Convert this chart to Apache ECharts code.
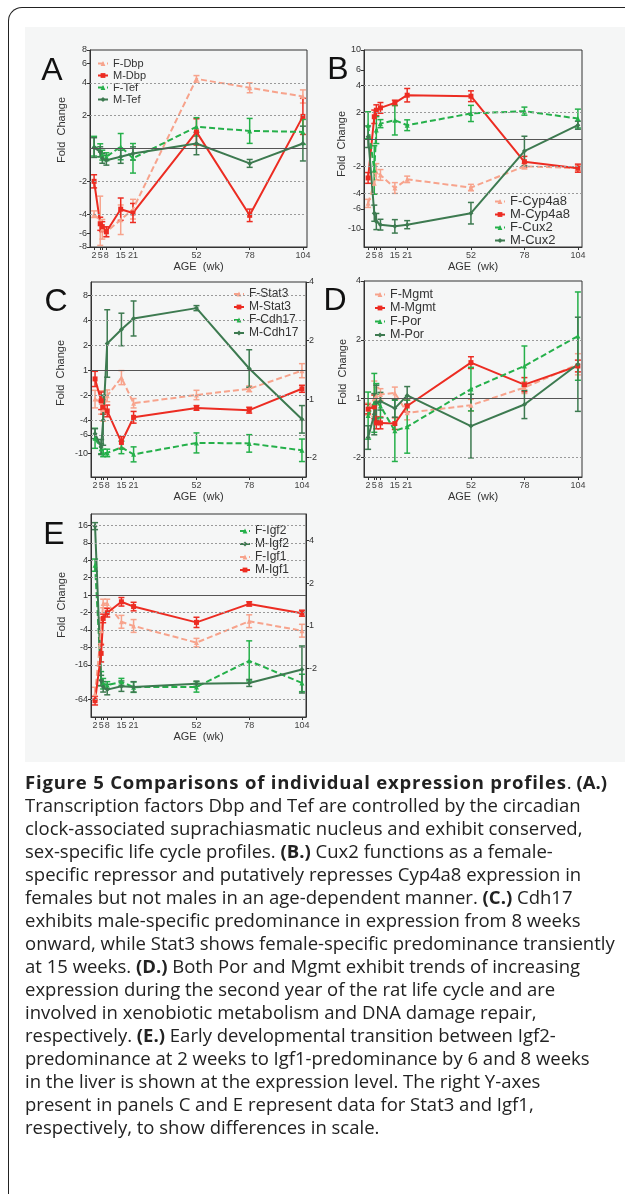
<!DOCTYPE html>
<html>
<head>
<meta charset="utf-8">
<title>Figure 5</title>
<script src="https://cdn.jsdelivr.net/npm/echarts@6/dist/echarts.min.js"></script>
<style>
html, body { margin: 0; padding: 0; background: #fff; }
body { width: 625px; height: 1201px; position: relative; overflow: hidden; }
.frame {
  position: absolute; left: 8px; top: 7px; width: 700px; height: 1186px;
  border-left: 1.5px solid #222; border-top: 1.5px solid #222; border-top-left-radius: 14px;
}
.figure-bg { position: absolute; left: 25px; top: 27px; width: 600px; height: 735px; background: #f5f6f6; }
#chart { position: absolute; left: 0; top: 0; width: 625px; height: 770px; }
.caption {
  position: absolute; left: 25px; top: 770px;
  font-family: 'Open Sans', sans-serif; font-size: 18.5px; line-height: 23px;
  color: #222; white-space: nowrap;
}
.caption b { font-weight: 700; }
.caption .title { letter-spacing: 0.8px; }
</style>
</head>
<body>
<div class="frame"></div>
<div class="figure-bg"></div>
<div id="chart"></div>
<div class="caption">
<b class="title">Figure 5 Comparisons of individual expression profiles</b>. <b>(A.)</b><br>
Transcription factors Dbp and Tef are controlled by the circadian<br>
clock-associated suprachiasmatic nucleus and exhibit conserved,<br>
sex-specific life cycle profiles. <b>(B.)</b> Cux2 functions as a female-<br>
specific repressor and putatively represses Cyp4a8 expression in<br>
females but not males in an age-dependent manner. <b>(C.)</b> Cdh17<br>
exhibits male-specific predominance in expression from 8 weeks<br>
onward, while Stat3 shows female-specific predominance transiently<br>
at 15 weeks. <b>(D.)</b> Both Por and Mgmt exhibit trends of increasing<br>
expression during the second year of the rat life cycle and are<br>
involved in xenobiotic metabolism and DNA damage repair,<br>
respectively. <b>(E.)</b> Early developmental transition between Igf2-<br>
predominance at 2 weeks to Igf1-predominance by 6 and 8 weeks<br>
in the liver is shown at the expression level. The right Y-axes<br>
present in panels C and E represent data for Stat3 and Igf1,<br>
respectively, to show differences in scale.
</div>

<script>
// 采样时间 (周)
var weeks = [2, 5, 6, 8, 15, 21, 52, 78, 104];
var weekTicks = [2, 5, 6, 8, 15, 21, 52, 78, 104];
var weekLabels = [2, 5, 8, 15, 21, 52, 78, 104];

// A: Dbp / Tef (fold change, 误差为 log2 半宽)
var fDbp = [-4, -4.6, -5.5, -5.8, -4.5, -3.6, 4.35, 3.6, 3.0];
var fDbpErr = [0.1, 0.75, 0.3, 0.15, 0.45, 0.3, 0.1, 0.15, 0.2];
var mDbp = [-2, -4.9, -5.2, -5.8, -3.6, -3.9, 1.42, -4.1, 1.97];
var mDbpErr = [0.2, 0.2, 0.15, 0.15, 0.34, 0.29, 0.4, 0.19, 0.55];
var fTef = [1.05, -1.04, -1.15, -1.19, 1.04, -1.23, 1.58, 1.45, 1.42];
var fTefErr = [0.3, 0.2, 0.15, 0.12, 0.4, 0.45, 0.28, 0.38, 0.38];
var mTef = [1.02, -1.07, -1.23, -1.28, -1.19, -1.11, 1.11, -1.37, 1.11];
var mTefErr = [0.3, 0.15, 0.15, 0.15, 0.2, 0.2, 0.34, 0.12, 0.53];

// B: Cyp4a8 / Cux2
var fCyp = [-5.2, -3.1, -2.3, -2.5, -3.5, -2.8, -3.46, -2.0, -2.1];
var fCypErr = [0.15, 0.4, 0.3, 0.2, 0.2, 0.12, 0.12, 0.1, 0.1];
var mCyp = [-2.7, 1.79, 2.12, 2.25, 2.56, 3.12, 3.04, -1.78, -2.1];
var mCypErr = [0.2, 0.25, 0.2, 0.2, 0.1, 0.25, 0.2, 0.2, 0.15];
var fCux2 = [1.44, -2.2, 1.27, 1.5, 1.64, 1.44, 1.95, 2.07, 1.71];
var fCux2Err = [0.5, 0.9, 0.5, 0.15, 0.55, 0.2, 0.3, 0.15, 0.35];
var mCux2 = [1.07, -6.7, -8.3, -9.0, -9.4, -9.0, -6.7, -1.35, 1.44];
var mCux2Err = [0.4, 0.3, 0.3, 0.2, 0.25, 0.15, 0.4, 0.55, 0.15];

// C: Stat3 (右轴) / Cdh17
var fStat3 = [1.0, -1.04, -1.13, 1.04, 1.29, -1.05, 1.05, 1.13, 1.4];
var fStat3Err = [0.15, 0.2, 0.2, 0.1, 0.12, 0.08, 0.08, 0.05, 0.12];
var mStat3 = [1.27, -1.02, -1.1, -1.15, -1.67, -1.24, -1.11, -1.14, 1.13];
var mStat3Err = [0.13, 0.15, 0.12, 0.1, 0.1, 0.1, 0.04, 0.05, 0.06];
var fCdh17 = [-6.6, -8.8, -9.9, -9.9, -8.5, -10.3, -7.5, -7.6, -9.2];
var fCdh17Err = [0.4, 0.2, 0.15, 0.15, 0.25, 0.3, 0.4, 0.35, 0.45];
var mCdh17 = [-5.8, -8.4, -4, 2.1, 3.1, 4.2, 5.6, 1.05, -3.9];
var mCdh17Err = [0.2, 0.3, 1.0, 1.35, 0.65, 0.7, 0.1, 0.75, 0.55];

// D: Mgmt / Por
var fMgmt = [-1.13, 1.0, 1.03, 1.05, 1.07, -1.18, -1.08, 1.14, 1.5];
var fMgmtErr = [0.1, 0.3, 0.15, 0.1, 0.1, 0.12, 0.1, 0.1, 0.18];
var mMgmt = [-1.13, -1.1, -1.33, -1.33, -1.34, -1.09, 1.53, 1.18, 1.47];
var mMgmtErr = [0.08, 0.2, 0.1, 0.1, 0.1, 0.1, 0.1, 0.12, 0.1];
var fPor = [-1.22, -1.05, -1.03, -1.09, -1.46, -1.39, 1.12, 1.47, 2.09];
var fPorErr = [0.4, 0.5, 0.3, 0.2, 0.52, 0.45, 0.37, 0.34, 0.75];
var mPor = [-1.58, -1.2, -1.05, -1.03, -1.12, 1.04, -1.38, -1.07, 1.5];
var mPorErr = [0.2, 0.35, 0.3, 0.15, 0.15, 0.15, 0.54, 0.24, 0.8];

// E: Igf2 / Igf1 (右轴)
var fIgf2 = [3.3, -27.7, -34, -36, -31.6, -39, -38.6, -13.7, -33];
var fIgf2Err = [0.35, 0.4, 0.3, 0.2, 0.2, 0.3, 0.3, 1.15, 0.5];
var mIgf2 = [15.6, -30, -38.5, -43, -37.5, -38.6, -34, -33, -19.3];
var mIgf2Err = [0.2, 0.3, 0.3, 0.3, 0.3, 0.3, 0.15, 0.2, 1.35];
var fIgf1 = [-3.0, -1.08, 1.44, 1.44, 1.07, 1.0, -1.31, 1.08, -1.08];
var fIgf1Err = [0.15, 0.3, 0.1, 0.1, 0.15, 0.15, 0.1, 0.15, 0.15];
var mIgf1 = [-3.36, -1.56, 1.13, 1.24, 1.48, 1.37, 1.06, 1.43, 1.23];
var mIgf1Err = [0.1, 0.2, 0.1, 0.1, 0.1, 0.1, 0.12, 0.05, 0.07];

// 刻度
var aTicks = [8, 6, 4, 2, -2, -4, -6, -8];
var bTicks = [10, 8, 6, 4, 2, -2, -4, -6, -8, -10];
var cTicks = [8, 4, 2, 1, -2, -4, -6, -8, -10];
var cRightTicks = [4, 2, 1, -2];
var dTicks = [4, 2, 1, -2];
var eTicks = [16, 8, 4, 2, 1, -2, -4, -8, -16, -64];
var eRightTicks = [4, 2, 1, -2];

// 虚线网格
var aGrid = [4, 2, -2, -4];
var bGrid = [4, 2, -2, -4];
var cGrid = [8, 4, 2, -2, -4, -6];
var dGrid = [2, -2];
var eGrid = [16, 8, 4, 2, -2, -4, -8, -16, -64];

var SALMON = '#F7A38C';
var RED = '#EC2C22';
var GREEN = '#25B04A';
var DKGREEN = '#3D7A50';

// fold change -> log2 坐标 (1 在中间)
function toLog (f) {
    return f > 0 ? Math.log2(f) : -Math.log2(-f);
}
function foldLabel (v) {
    var f = Math.round(Math.pow(2, Math.abs(v)));
    return v < -1e-6 ? '-' + f : String(f);
}

function lineSeries (name, vals, color, dashed, symbol, xi, yi, grid) {
    var s = {
        name: name,
        type: 'line',
        xAxisIndex: xi,
        yAxisIndex: yi,
        data: weeks.map(function (w, i) { return [w, toLog(vals[i])]; }),
        symbol: symbol,
        symbolSize: 5,
        itemStyle: { color: color },
        lineStyle: { color: color, width: 2, type: dashed ? [6, 3] : 'solid' },
        z: 3
    };
    if (grid) {
        s.markLine = {
            silent: true,
            symbol: 'none',
            label: { show: false },
            data: grid.map(function (v) {
                return { yAxis: toLog(v), lineStyle: { type: [2, 2], color: '#9a9a9a', width: 1 } };
            }).concat([{ yAxis: 0, lineStyle: { type: 'solid', color: '#555', width: 1 } }])
        };
    }
    return s;
}

function errSeries (name, vals, errs, color, xi, yi) {
    return {
        name: name + ' err',
        type: 'custom',
        xAxisIndex: xi,
        yAxisIndex: yi,
        silent: true,
        z: 2,
        encode: { x: 0, y: [1, 2] },
        data: weeks.map(function (w, i) {
            var v = toLog(vals[i]);
            return [w, v - errs[i], v + errs[i]];
        }),
        renderItem: function (params, api) {
            var lo = api.coord([api.value(0), api.value(1)]);
            var hi = api.coord([api.value(0), api.value(2)]);
            var c = 3;
            var st = { stroke: color, lineWidth: 1.5 };
            return {
                type: 'group',
                children: [
                    { type: 'line', shape: { x1: lo[0], y1: lo[1], x2: hi[0], y2: hi[1] }, style: st },
                    { type: 'line', shape: { x1: lo[0] - c, y1: lo[1], x2: lo[0] + c, y2: lo[1] }, style: st },
                    { type: 'line', shape: { x1: hi[0] - c, y1: hi[1], x2: hi[0] + c, y2: hi[1] }, style: st }
                ]
            };
        }
    };
}

function xAxisFor (gi) {
    return {
        type: 'value',
        gridIndex: gi,
        min: 0,
        max: 106,
        name: 'AGE  (wk)',
        nameLocation: 'middle',
        nameGap: 14,
        nameTextStyle: { fontSize: 11, color: '#333' },
        axisLine: { show: true, onZero: false, lineStyle: { color: '#333' } },
        axisTick: { show: true, length: 3, customValues: weekTicks, lineStyle: { color: '#333' } },
        axisLabel: {
            customValues: weekLabels, fontSize: 9, color: '#444', margin: 4,
            hideOverlap: false, showMinLabel: true, showMaxLabel: true
        },
        splitLine: { show: false }
    };
}

function yAxisFor (gi, min, max, ticks, pos) {
    var vals = ticks.map(toLog);
    return {
        type: 'value',
        gridIndex: gi,
        min: min,
        max: max,
        position: pos || 'left',
        axisLine: { show: true, onZero: false, lineStyle: { color: '#333' } },
        axisTick: { show: true, length: 3, customValues: vals, lineStyle: { color: '#333' } },
        axisLabel: {
            customValues: vals, formatter: foldLabel, fontSize: 9, color: '#333', margin: 3,
            hideOverlap: false, showMinLabel: true, showMaxLabel: true
        },
        splitLine: { show: false }
    };
}

function legendFor (names, left, top, fontSize, gap) {
    return {
        data: names,
        orient: 'vertical',
        left: left,
        top: top,
        padding: 0,
        itemGap: gap,
        itemWidth: 10,
        itemHeight: 6,
        textStyle: { fontSize: fontSize, color: '#333' }
    };
}

function foldName (x, y) {
    return {
        type: 'text', x: x, y: y, rotation: Math.PI / 2,
        style: { text: 'Fold  Change', align: 'center', verticalAlign: 'middle', fontSize: 11, fill: '#333' }
    };
}
function letter (t, x, y) {
    return {
        type: 'text', x: x, y: y,
        style: { text: t, align: 'center', verticalAlign: 'middle', fontSize: 32, fill: '#111' }
    };
}

var chart = echarts.init(document.getElementById('chart'));

var option = {
    animation: false,
    textStyle: { fontFamily: 'Liberation Sans, Arial, sans-serif' },
    grid: [
        { left: 90, top: 50, width: 217, height: 197, show: true, borderColor: '#333', borderWidth: 1 },
        { left: 364, top: 50, width: 218, height: 197, show: true, borderColor: '#333', borderWidth: 1 },
        { left: 91, top: 282, width: 215, height: 195, show: true, borderColor: '#333', borderWidth: 1 },
        { left: 364, top: 281, width: 218, height: 196, show: true, borderColor: '#333', borderWidth: 1 },
        { left: 91, top: 514, width: 215, height: 203, show: true, borderColor: '#333', borderWidth: 1 }
    ],
    xAxis: [xAxisFor(0), xAxisFor(1), xAxisFor(2), xAxisFor(3), xAxisFor(4)],
    yAxis: [
        yAxisFor(0, -3, 3, aTicks),
        yAxisFor(1, -4, Math.log2(10), bTicks),
        yAxisFor(2, -4.27, 3.53, cTicks),
        yAxisFor(2, -1.33, 2, cRightTicks, 'right'),
        yAxisFor(3, -1.33, 2, dTicks),
        yAxisFor(4, -7, 4.66, eTicks),
        yAxisFor(4, -2.13, 2.62, eRightTicks, 'right')
    ],
    legend: [
        legendFor(['F-Dbp', 'M-Dbp', 'F-Tef', 'M-Tef'], 97, 58, 11, 1),
        legendFor(['F-Cyp4a8', 'M-Cyp4a8', 'F-Cux2', 'M-Cux2'], 494, 195, 13, 0),
        legendFor(['F-Stat3', 'M-Stat3', 'F-Cdh17', 'M-Cdh17'], 233, 288, 12, 1),
        legendFor(['F-Mgmt', 'M-Mgmt', 'F-Por', 'M-Por'], 374, 288, 12.5, 0.5),
        legendFor(['F-Igf2', 'M-Igf2', 'F-Igf1', 'M-Igf1'], 239, 525, 12, 1)
    ],
    graphic: [
        letter('A', 52, 71), letter('B', 338, 70), letter('C', 56, 302),
        letter('D', 335, 301), letter('E', 54, 535),
        foldName(62, 130), foldName(342, 144), foldName(61, 373),
        foldName(343, 372), foldName(62, 605)
    ],
    series: [
        // A
        errSeries('F-Dbp', fDbp, fDbpErr, SALMON, 0, 0),
        errSeries('M-Dbp', mDbp, mDbpErr, RED, 0, 0),
        errSeries('F-Tef', fTef, fTefErr, GREEN, 0, 0),
        errSeries('M-Tef', mTef, mTefErr, DKGREEN, 0, 0),
        lineSeries('F-Dbp', fDbp, SALMON, true, 'triangle', 0, 0, aGrid),
        lineSeries('M-Dbp', mDbp, RED, false, 'rect', 0, 0),
        lineSeries('F-Tef', fTef, GREEN, true, 'triangle', 0, 0),
        lineSeries('M-Tef', mTef, DKGREEN, false, 'diamond', 0, 0),
        // B
        errSeries('F-Cyp4a8', fCyp, fCypErr, SALMON, 1, 1),
        errSeries('M-Cyp4a8', mCyp, mCypErr, RED, 1, 1),
        errSeries('F-Cux2', fCux2, fCux2Err, GREEN, 1, 1),
        errSeries('M-Cux2', mCux2, mCux2Err, DKGREEN, 1, 1),
        lineSeries('F-Cyp4a8', fCyp, SALMON, true, 'triangle', 1, 1, bGrid),
        lineSeries('M-Cyp4a8', mCyp, RED, false, 'rect', 1, 1),
        lineSeries('F-Cux2', fCux2, GREEN, true, 'triangle', 1, 1),
        lineSeries('M-Cux2', mCux2, DKGREEN, false, 'diamond', 1, 1),
        // C
        errSeries('F-Stat3', fStat3, fStat3Err, SALMON, 2, 3),
        errSeries('M-Stat3', mStat3, mStat3Err, RED, 2, 3),
        errSeries('F-Cdh17', fCdh17, fCdh17Err, GREEN, 2, 2),
        errSeries('M-Cdh17', mCdh17, mCdh17Err, DKGREEN, 2, 2),
        lineSeries('F-Cdh17', fCdh17, GREEN, true, 'triangle', 2, 2, cGrid),
        lineSeries('F-Stat3', fStat3, SALMON, true, 'triangle', 2, 3),
        lineSeries('M-Stat3', mStat3, RED, false, 'rect', 2, 3),
        lineSeries('M-Cdh17', mCdh17, DKGREEN, false, 'diamond', 2, 2),
        // D
        errSeries('F-Mgmt', fMgmt, fMgmtErr, SALMON, 3, 4),
        errSeries('M-Mgmt', mMgmt, mMgmtErr, RED, 3, 4),
        errSeries('F-Por', fPor, fPorErr, GREEN, 3, 4),
        errSeries('M-Por', mPor, mPorErr, DKGREEN, 3, 4),
        lineSeries('F-Mgmt', fMgmt, SALMON, true, 'triangle', 3, 4, dGrid),
        lineSeries('M-Mgmt', mMgmt, RED, false, 'rect', 3, 4),
        lineSeries('F-Por', fPor, GREEN, true, 'triangle', 3, 4),
        lineSeries('M-Por', mPor, DKGREEN, false, 'diamond', 3, 4),
        // E
        errSeries('F-Igf2', fIgf2, fIgf2Err, GREEN, 4, 5),
        errSeries('M-Igf2', mIgf2, mIgf2Err, DKGREEN, 4, 5),
        errSeries('F-Igf1', fIgf1, fIgf1Err, SALMON, 4, 6),
        errSeries('M-Igf1', mIgf1, mIgf1Err, RED, 4, 6),
        lineSeries('F-Igf2', fIgf2, GREEN, true, 'triangle', 4, 5, eGrid),
        lineSeries('M-Igf2', mIgf2, DKGREEN, false, 'diamond', 4, 5),
        lineSeries('F-Igf1', fIgf1, SALMON, true, 'triangle', 4, 6),
        lineSeries('M-Igf1', mIgf1, RED, false, 'rect', 4, 6)
    ]
};

chart.setOption(option);
</script>
</body>
</html>
